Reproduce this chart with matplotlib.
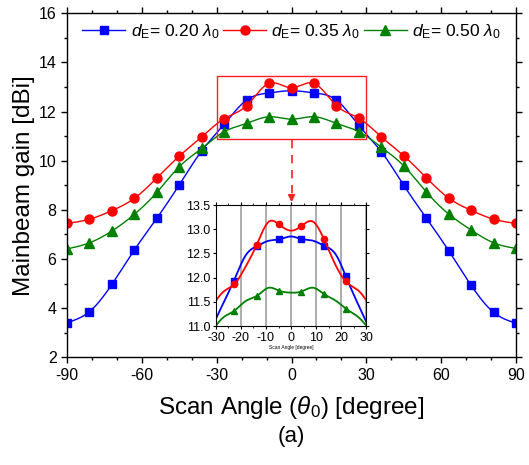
import numpy as np
import matplotlib
matplotlib.use("Agg")
import matplotlib.pyplot as plt
from matplotlib.ticker import MultipleLocator
from matplotlib.patches import Rectangle

plt.rcParams['font.family'] = ['Liberation Sans', 'DejaVu Sans']
plt.rcParams['mathtext.fontset'] = 'custom'
plt.rcParams['mathtext.rm'] = 'Liberation Sans'
plt.rcParams['mathtext.it'] = 'Liberation Sans:italic'
plt.rcParams['axes.unicode_minus'] = False

# scan angles (deg) and main beam gain (dBi) for three element spacings
angles = [-90, -81, -72, -63, -54, -45, -36, -27, -18, -9, 0,
          9, 18, 27, 36, 45, 54, 63, 72, 81, 90]
gain_020 = [3.41, 3.86, 4.97, 6.37, 7.66, 9.02, 10.40, 11.48, 12.47, 12.76, 12.85,
            12.76, 12.47, 11.43, 10.37, 9.00, 7.67, 6.34, 4.93, 3.83, 3.39]
gain_035 = [7.45, 7.62, 7.97, 8.47, 9.30, 10.19, 10.97, 11.71, 12.24, 13.15, 12.97,
            13.15, 12.24, 11.73, 10.97, 10.20, 9.31, 8.48, 7.98, 7.62, 7.45]
gain_050 = [6.41, 6.66, 7.14, 7.82, 8.71, 9.76, 10.50, 11.18, 11.52, 11.79, 11.69,
            11.79, 11.52, 11.18, 10.55, 9.79, 8.73, 7.83, 7.18, 6.66, 6.43]

# marker positions shown in the zoomed view
zoom_angles = [-22.8, -13.7, -4.8, 4.0, 13.2, 21.9]
zoom_020 = [11.94, 12.65, 12.79, 12.80, 12.66, 12.03]
zoom_035 = [11.86, 12.68, 13.10, 13.06, 12.79, 11.92]
zoom_050 = [11.31, 11.62, 11.73, 11.71, 11.66, 11.36]

labels = [r'$d_{\rm E}$= 0.20 $\lambda_0$',
          r'$d_{\rm E}$= 0.35 $\lambda_0$',
          r'$d_{\rm E}$= 0.50 $\lambda_0$']
colors = ['#0000FF', '#FF0000', '#008000']
markers = ['s', 'o', '^']
msizes = [5.5, 6.5, 6.5]


def spline(x, y, n=400):
    # natural cubic spline through the points, for a smooth connecting line
    order = np.argsort(x)
    x = np.asarray(x, float)[order]
    y = np.asarray(y, float)[order]
    h = np.diff(x)
    m = len(x)
    A = np.zeros((m, m))
    b = np.zeros(m)
    A[0, 0] = A[-1, -1] = 1
    for i in range(1, m - 1):
        A[i, i - 1] = h[i - 1]
        A[i, i] = 2 * (h[i - 1] + h[i])
        A[i, i + 1] = h[i]
        b[i] = 6 * ((y[i + 1] - y[i]) / h[i] - (y[i] - y[i - 1]) / h[i - 1])
    M = np.linalg.solve(A, b)
    xs = np.linspace(x[0], x[-1], n)
    k = np.clip(np.searchsorted(x, xs) - 1, 0, m - 2)
    t1 = x[k + 1] - xs
    t0 = xs - x[k]
    ys = (M[k] * t1**3 + M[k + 1] * t0**3) / (6 * h[k]) \
        + (y[k] / h[k] - M[k] * h[k] / 6) * t1 \
        + (y[k + 1] / h[k] - M[k + 1] * h[k] / 6) * t0
    return xs, ys


fig = plt.figure(figsize=(5.29, 4.65), dpi=100)
ax = fig.add_axes([0.1267, 0.2316, 0.8488, 0.7398])

series = [gain_020, gain_035, gain_050]
for g, c, mk, ms, lab in zip(series, colors, markers, msizes, labels):
    xs, ys = spline(angles, g)
    ax.plot(xs, ys, color=c, lw=1.0)
    ax.plot(angles, g, ls='none', marker=mk, ms=ms, color=c)
    ax.plot([], [], color=c, lw=1.0, marker=mk, ms=ms, label=lab)

ax.set_xlim(-90, 90)
ax.set_ylim(2, 16)
ax.xaxis.set_major_locator(MultipleLocator(30))
ax.xaxis.set_minor_locator(MultipleLocator(10))
ax.yaxis.set_major_locator(MultipleLocator(2))
ax.yaxis.set_minor_locator(MultipleLocator(1))
ax.tick_params(which='both', direction='out', top=True, right=True,
               labelsize=11.5, width=1.0)
ax.tick_params(which='major', length=4)
ax.tick_params(which='minor', length=2.5)
for s in ax.spines.values():
    s.set_linewidth(1.0)
ax.set_xlabel(r'Scan Angle ($\theta_0$) [degree]', fontsize=17.5, labelpad=8)
ax.set_ylabel('Mainbeam gain [dBi]', fontsize=17.5, labelpad=3)

ax.legend(loc='upper center', ncol=3, frameon=False, fontsize=12.5,
          handlelength=2.5, handletextpad=0.3, columnspacing=0.2,
          borderaxespad=0.3, bbox_to_anchor=(0.5, 1.01))

# highlight box and dashed pointer to the zoomed view
ax.add_patch(Rectangle((-30, 10.88), 60, 2.57, fill=False,
                       edgecolor='#FF2020', lw=1.0, zorder=4))
ax.plot([0, 0], [10.85, 8.55], color='#FF2020', lw=1.2, ls=(0, (5, 4)))
ax.annotate('', xy=(0, 8.2), xytext=(0, 8.6),
            arrowprops=dict(arrowstyle='-|>', color='#FF2020', lw=1.2,
                            mutation_scale=10))

ax.text(0.5, -0.2, '(a)', transform=ax.transAxes, ha='center', va='top',
        fontsize=16)

# zoomed view of the main lobe: curves pass through both sets of points
axin = fig.add_axes([0.4083, 0.2989, 0.2836, 0.2602])
zseries = [zoom_020, zoom_035, zoom_050]
for g, z, c, mk in zip(series, zseries, colors, markers):
    px = angles[5:16] + zoom_angles
    py = g[5:16] + z
    xs, ys = spline(px, py, n=2000)
    axin.plot(xs, ys, color=c, lw=1.3)
    axin.plot(zoom_angles, z, ls='none', marker=mk, ms=4.5, color=c)
axin.set_xlim(-30, 30)
axin.set_ylim(11.0, 13.5)
axin.xaxis.set_major_locator(MultipleLocator(10))
axin.xaxis.set_minor_locator(MultipleLocator(5))
axin.yaxis.set_major_locator(MultipleLocator(0.5))
axin.yaxis.set_major_formatter(plt.FormatStrFormatter('%.1f'))
axin.grid(axis='x', color='#A0A0A0', lw=1.2)
axin.tick_params(which='both', direction='out', top=True, right=True,
                 labelsize=9, pad=1.5)
axin.tick_params(which='major', length=2.5)
axin.tick_params(which='minor', length=1.5)
axin.set_xlabel('Scan Angle [degree]', fontsize=3.5, labelpad=1)

fig.savefig('out.png', dpi=100)
